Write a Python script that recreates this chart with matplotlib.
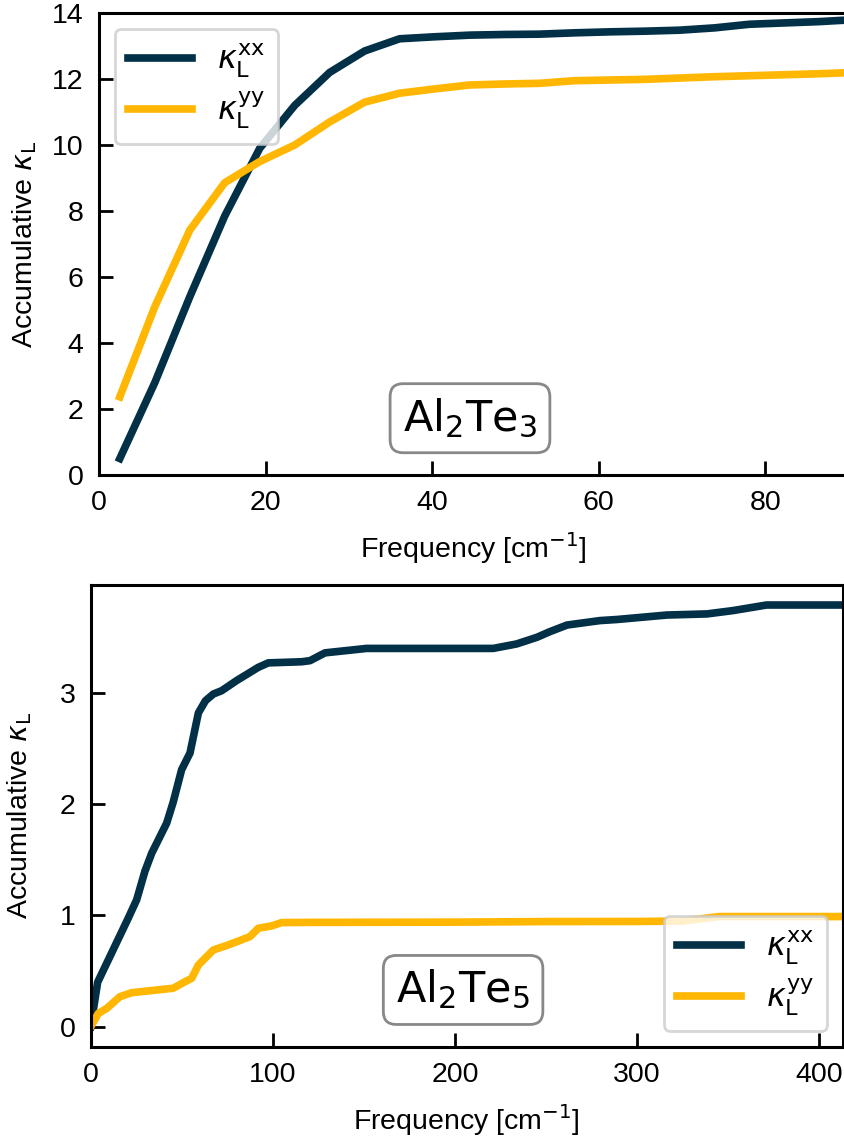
import matplotlib
matplotlib.use("Agg")
import matplotlib.pyplot as plt

plt.rcParams['font.family'] = ['Liberation Sans', 'DejaVu Sans']
plt.rcParams['mathtext.fontset'] = 'dejavusans'

c_xx = '#023047'
c_yy = '#FFB703'

# Al2Te3 accumulative kappa
freq_a = [2.5, 6.7, 10.9, 15.1, 19.3, 23.5, 27.7, 31.9, 36.1, 40.3, 44.5,
          48.7, 52.9, 57.1, 61.3, 65.5, 69.7, 73.9, 78.1, 82.3, 86.5, 90.7]
kxx_a = [0.5, 2.8, 5.4, 7.85, 9.9, 11.2, 12.2, 12.85, 13.22, 13.28, 13.33,
         13.35, 13.36, 13.4, 13.43, 13.45, 13.48, 13.55, 13.66, 13.7, 13.74, 13.8]
kyy_a = [2.37, 5.1, 7.42, 8.86, 9.5, 10.0, 10.7, 11.3, 11.57, 11.7, 11.82,
         11.85, 11.87, 11.95, 11.97, 11.99, 12.03, 12.07, 12.1, 12.13, 12.16, 12.2]

# Al2Te5 accumulative kappa
freq_b_xx = [0, 3.8, 20.6, 25.2, 29.8, 33.5, 41.7, 45.3, 49.9, 54.5, 59.1, 63,
             67.3, 71.9, 80, 92, 97.5, 115.8, 120.4, 128.6, 151.5, 221, 233.8,
             245, 252, 261.5, 279.5, 289, 316.3, 338.3, 352.6, 371, 413]
kxx_b = [0, 0.40, 0.976, 1.14, 1.4, 1.56, 1.83, 2.02, 2.31, 2.46, 2.82, 2.93,
         2.99, 3.02, 3.11, 3.23, 3.27, 3.28, 3.29, 3.36, 3.40, 3.40, 3.44,
         3.50, 3.55, 3.61, 3.65, 3.66, 3.70, 3.71, 3.74, 3.79, 3.79]
freq_b_yy = [0, 4.2, 8.8, 16, 22.5, 45.3, 51.8, 55.4, 59.1, 67.3, 75.5, 87.4,
             92, 99.3, 104.8, 123, 200, 250, 300, 325, 335, 345, 413]
kyy_b = [0, 0.12, 0.165, 0.27, 0.306, 0.346, 0.405, 0.435, 0.555, 0.69, 0.735,
         0.81, 0.885, 0.906, 0.936, 0.938, 0.94, 0.945, 0.946, 0.95, 0.97, 0.99, 0.99]

lab_xx = r'$\kappa_\mathrm{L}^\mathrm{xx}$'
lab_yy = r'$\kappa_\mathrm{L}^\mathrm{yy}$'

fig = plt.figure(figsize=(8.44, 11.43), dpi=100)
ax1 = fig.add_axes([0.1173, 0.5844, 0.888, 0.4042])
ax2 = fig.add_axes([0.1075, 0.0842, 0.8913, 0.4040])

ax1.plot(freq_a, kxx_a, color=c_xx, lw=5.5, label=lab_xx)
ax1.plot(freq_a, kyy_a, color=c_yy, lw=5.5, label=lab_yy)
ax1.set_xlim(0, 90)
ax1.set_ylim(0, 14)
ax1.set_xticks([0, 20, 40, 60, 80])
ax1.set_yticks(range(0, 15, 2))

ax2.plot(freq_b_xx, kxx_b, color=c_xx, lw=5.5, label=lab_xx)
ax2.plot(freq_b_yy, kyy_b, color=c_yy, lw=5.5, label=lab_yy)
ax2.set_xlim(0, 413)
ax2.set_ylim(-0.18, 3.97)
ax2.set_xticks([0, 100, 200, 300, 400])
ax2.set_yticks([0, 1, 2, 3])

for ax, name, loc in [(ax1, r'$\mathrm{Al_2Te_3}$', 'upper left'),
                      (ax2, r'$\mathrm{Al_2Te_5}$', 'lower right')]:
    for s in ax.spines.values():
        s.set_linewidth(2.2)
    ax.tick_params(direction='in', length=10, width=2, labelsize=20.5, pad=11)
    ax.set_xlabel(r'Frequency [cm$^{-1}$]', fontsize=20.5, labelpad=10)
    ax.set_ylabel(r'Accumulative $\kappa_\mathrm{L}$', fontsize=20.5)
    ax.text(0.495, 0.123, name, transform=ax.transAxes, fontsize=31,
            ha='center', va='center',
            bbox=dict(boxstyle='round,pad=0.3', fc='white', ec='#888888', lw=2))
    leg = ax.legend(loc=loc, fontsize=23, handlelength=2.0, labelspacing=0.3)
    leg.get_frame().set_linewidth(2)

ax1.yaxis.set_label_coords(-0.08, 0.5)
ax2.yaxis.set_label_coords(-0.075, 0.5)

fig.savefig('out.png', dpi=100)
